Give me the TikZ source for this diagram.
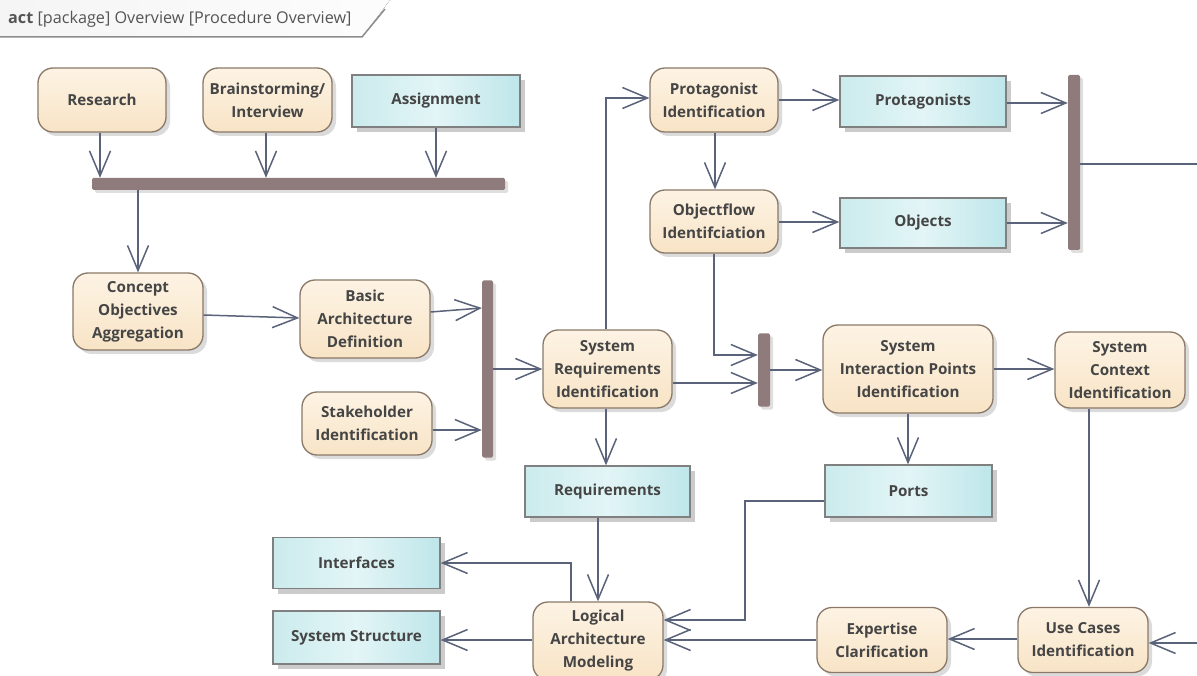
\documentclass[tikz,border=0pt]{standalone}
\usepackage{fontspec}
\setmainfont{Open Sans}
\usetikzlibrary{arrows.meta,shadows,calc}

\definecolor{acttop}{HTML}{FDF3E4}
\definecolor{actbot}{HTML}{F8E4C6}
\definecolor{actline}{HTML}{8A7968}
\definecolor{objline}{HTML}{808080}
\definecolor{objL}{HTML}{CBEBED}
\definecolor{objM}{HTML}{E3F5F6}
\definecolor{objR}{HTML}{BEE6EA}
\definecolor{barfill}{HTML}{8F7B7B}
\definecolor{flow}{HTML}{5A6379}
\definecolor{txt}{HTML}{454545}
\definecolor{hdrtxt}{HTML}{555555}
\definecolor{hdrline}{HTML}{8C8C8C}

\pgfdeclarehorizontalshading{objshade}{100bp}{color(0bp)=(objL); color(25bp)=(objL); color(50bp)=(objM); color(75bp)=(objR); color(100bp)=(objR)}

\newcommand\boxfont{\fontsize{15.2}{23}\selectfont\bfseries}

\tikzset{
  wh/.style 2 args={minimum width=#1pt, minimum height=#2pt},
  act/.style={rectangle, rounded corners=15pt, draw=actline, line width=1.3pt,
    top color=acttop, bottom color=actbot, text=txt, font=\boxfont,
    align=center, inner sep=0pt,
    drop shadow={shadow xshift=4pt, shadow yshift=-4pt, fill=black!35, opacity=0.4}},
  obj/.style={rectangle, draw=objline, line width=1.3pt, shading=objshade,
    text=txt, font=\boxfont, align=center, inner sep=0pt,
    drop shadow={shadow xshift=5pt, shadow yshift=-5pt, fill=black!45, opacity=0.45}},
  bar/.style={rectangle, fill=barfill, draw=none, rounded corners=1.5pt, inner sep=0pt,
    drop shadow={shadow xshift=3pt, shadow yshift=-3pt, fill=black!35, opacity=0.35}},
  flowarr/.style={draw=flow, line width=1.5pt,
    -{Straight Barb[length=25pt, width=21pt, line width=1.5pt]}},
  flowline/.style={draw=flow, line width=1.5pt},
}

\begin{document}
\begin{tikzpicture}[x=1pt, y=-1pt]
\useasboundingbox (0,0) rectangle (1197,676);
\clip (0,0) rectangle (1197,676);
\fill[white] (0,0) rectangle (1197,676);

% frame heading
\fill[left color=black!4, right color=black!1] (0,0) -- (390,0) -- (362,37) -- (0,37) -- cycle;
\draw[hdrline, line width=1.5pt] (0,37) -- (362,37) -- (385,9);
\node[anchor=west, text=hdrtxt, font=\fontsize{16.2}{18}\selectfont, inner sep=0pt] (hdr) at (8,19)
  {\textbf{act} [package] Overview [Procedure Overview]};

% actions and objects
\node[act, wh={128}{64}] (research) at (102,100) {Research};
\node[act, wh={129}{64}] (brain) at (267.5,100) {Brainstorming/\\Interview};
\node[obj, wh={168}{52}] (assign) at (436,101) {Assignment};
\node[bar, wh={413}{12}] (bar1) at (298.5,184) {};

\node[act, wh={130}{77}] (concept) at (138,311.5) {Concept\\Objectives\\Aggregation};
\node[act, wh={130}{78}] (basic) at (365,319) {Basic\\Architecture\\Definition};
\node[act, wh={130}{63}] (stake) at (367,423.5) {Stakeholder\\Identification};
\node[bar, wh={11}{177}] (bar2) at (487.5,369) {};

\node[act, wh={129}{78}] (sysreq) at (607.5,369) {System\\Requirements\\Identification};
\node[act, wh={128}{64}] (protag) at (714,100) {Protagonist\\Identification};
\node[obj, wh={166}{51}] (protags) at (923,101.5) {Protagonists};
\node[act, wh={128}{63}] (objflow) at (714,221.5) {Objectflow\\Identifciation};
\node[obj, wh={166}{50}] (objects) at (923,223) {Objects};
\node[bar, wh={12}{175}] (bar3) at (1074,162.5) {};

\node[bar, wh={12}{73}] (bar4) at (764,370) {};
\node[act, wh={170}{88}] (sipi) at (908,369) {System\\Interaction Points\\Identification};
\node[act, wh={130}{76}] (sci) at (1120,370) {System\\Context\\Identification};

\node[obj, wh={165}{51}] (reqs) at (607.5,491.5) {Requirements};
\node[obj, wh={167}{52}] (ports) at (908.5,491) {Ports};
\node[act, wh={130}{78}] (logical) at (598,641) {Logical\\Architecture\\Modeling};
\node[obj, wh={167}{51}] (interfaces) at (356.5,563) {Interfaces};
\node[obj, wh={167}{53}] (sysstruct) at (356.5,637.5) {System Structure};
\node[act, wh={130}{65}] (expert) at (882,640) {Expertise\\Clarification};
\node[act, wh={130}{65}] (usecases) at (1083,640) {Use Cases\\Identification};

% free ends and bends
\coordinate (exitR) at (1197,164);
\coordinate (inR) at (1197,643);
\coordinate (pbend) at (745,620);
\coordinate (stakeout) at ([yshift=-6.5pt]stake.east);
\coordinate (uctop) at ([xshift=6pt]usecases.north);

% control and object flows
\draw[flowarr] ([xshift=-2pt]research.south) -- ([xshift=-2pt]research.south |- bar1.north);
\draw[flowarr] ([xshift=-1.5pt]brain.south) -- ([xshift=-1.5pt]brain.south |- bar1.north);
\draw[flowarr] (assign.south) -- (assign.south |- bar1.north);
\draw[flowarr] (concept.north |- bar1.south) -- (concept.north);

\draw[flowarr] ([yshift=-3.5pt]concept.east) -- ([yshift=1pt]basic.west);
\draw[flowarr] ([yshift=7pt]basic.east) -- ([yshift=61pt]bar2.west);
\draw[flowarr] (stakeout) -- (stakeout -| bar2.west);
\draw[flowarr] (bar2.east) -- (bar2.east -| sysreq.west);

\draw[flowarr] ([xshift=-1.5pt]sysreq.north) |- ([yshift=2pt]protag.west);
\draw[flowarr] (protag.east) -- (protag.east -| protags.west);
\draw[flowarr] ([yshift=-1.5pt]protags.east) -- ([yshift=-1.5pt]protags.east -| bar3.west);
\draw[flowarr] ([xshift=1pt]protag.south) -- ([xshift=1pt]objflow.north);
\draw[flowarr] ([yshift=-0.5pt]objflow.east) -- ([yshift=-0.5pt]objflow.east -| objects.west);
\draw[flowarr] (objects.east) -- (objects.east -| bar3.west);
\draw[flowline] (bar3.east |- exitR) -- (exitR);

\draw[flowarr] (objflow.south) |- ([yshift=15pt]bar4.west);
\draw[flowarr] ([yshift=-14pt]sysreq.east) -- ([yshift=-13pt]bar4.west);
\draw[flowarr] (bar4.east) -- (bar4.east -| sipi.west);
\draw[flowarr] (sipi.east) -- (sipi.east -| sci.west);
\draw[flowarr] (sipi.south) -- (sipi.south |- ports.north);
\draw[flowarr] ([xshift=-1.5pt]sysreq.south) -- ([xshift=-1.5pt]sysreq.south |- reqs.north);

\draw[flowarr] (reqs.south -| logical.north) -- (logical.north);
\draw[flowarr] ([xshift=-27pt]logical.north) |- (interfaces.east);
\draw[flowarr] ([yshift=1pt]logical.west) -- ([yshift=1pt]logical.west -| sysstruct.east);
\draw[flowarr] ([yshift=-10pt]ports.west) -| (pbend) -- (pbend -| logical.east);
\draw[flowarr] (expert.west) -- (expert.west -| logical.east);
\draw[flowarr] ([yshift=1pt]usecases.west) -- ([yshift=1pt]usecases.west -| expert.east);
\draw[flowarr] (sci.south -| uctop) -- (uctop);
\draw[flowarr] (inR) -- (inR -| usecases.east);
\end{tikzpicture}
\end{document}
